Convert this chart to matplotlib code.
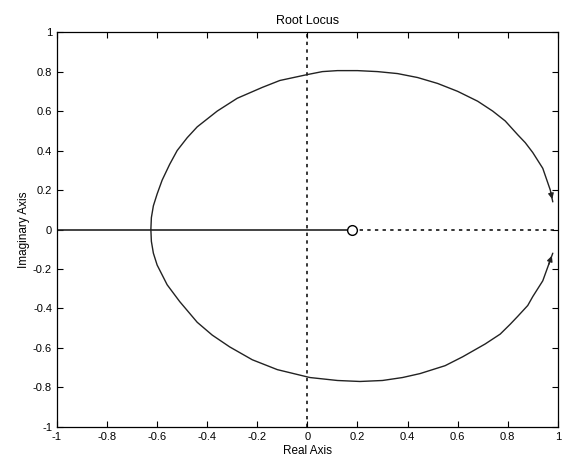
import numpy as np
import matplotlib.pyplot as plt
from matplotlib.ticker import FuncFormatter

plt.rcParams['font.family'] = ['Liberation Sans', 'DejaVu Sans']

# Upper branch of the locus, pole -> breakaway
upper_re = [0.98, 0.97, 0.94, 0.90, 0.87, 0.84, 0.79, 0.74, 0.68, 0.60, 0.52, 0.44, 0.36, 0.28, 0.20,
            0.12, 0.06, 0.0, -0.11, -0.18, -0.28, -0.36, -0.44, -0.48, -0.52, -0.55, -0.58, -0.60,
            -0.615, -0.623, -0.625]
upper_im = [0.14, 0.20, 0.31, 0.39, 0.44, 0.48, 0.55, 0.60, 0.65, 0.70, 0.74, 0.77, 0.79, 0.80, 0.805,
            0.805, 0.80, 0.785, 0.755, 0.72, 0.665, 0.60, 0.52, 0.465, 0.40, 0.33, 0.25, 0.18,
            0.12, 0.06, 0.0]

# Lower branch, breakaway -> pole
lower_re = [-0.625, -0.623, -0.615, -0.60, -0.58, -0.56, -0.51, -0.44, -0.38, -0.31, -0.22, -0.12, 0.01,
            0.12, 0.21, 0.30, 0.38, 0.45, 0.55, 0.62, 0.71, 0.77, 0.81, 0.84, 0.88, 0.90, 0.94,
            0.96, 0.98]
lower_im = [0.0, -0.06, -0.12, -0.18, -0.23, -0.28, -0.365, -0.47, -0.535, -0.595, -0.66, -0.71, -0.75,
            -0.765, -0.77, -0.765, -0.75, -0.73, -0.69, -0.645, -0.58, -0.53, -0.48, -0.44, -0.385,
            -0.34, -0.26, -0.19, -0.12]

# Real-axis part of the locus, from far left to the zero
real_re = [-1.0, 0.18]
real_im = [0.0, 0.0]

zero_re = [0.18]
zero_im = [0.0]

fig = plt.figure(figsize=(5.64, 4.59), dpi=100)
ax = fig.add_axes([0.101, 0.070, 0.888, 0.860])

dots = (0, (2.2, 2.8))
ax.plot([0, 0], [-1, 1], color='black', lw=1.1, linestyle=dots)
ax.plot([zero_re[0], 1], [0, 0], color='black', lw=1.1, linestyle=dots)

line_kw = dict(color='#222222', lw=1.0, solid_joinstyle='round', solid_capstyle='round')
ax.plot(upper_re, upper_im, '-', **line_kw)
ax.plot(lower_re, lower_im, '-', **line_kw)
ax.plot(real_re, real_im, '-', color='#222222', lw=1.2)
ax.plot(zero_re, zero_im, 'o', mfc='white', mec='black', ms=7, mew=1.0)

# arrowheads at the pole ends
ax.annotate('', xy=(upper_re[0], upper_im[0]), xytext=(upper_re[1], upper_im[1]),
            arrowprops=dict(arrowstyle='-|>', color='#222222', lw=1.0, mutation_scale=8))
ax.annotate('', xy=(lower_re[-1], lower_im[-1]), xytext=(lower_re[-2], lower_im[-2]),
            arrowprops=dict(arrowstyle='-|>', color='#222222', lw=1.0, mutation_scale=8))

ax.set_xlim(-1, 1)
ax.set_ylim(-1, 1)
ticks = np.round(np.arange(-1, 1.01, 0.2), 1)
ax.set_xticks(ticks)
ax.set_yticks(ticks)
fmt = FuncFormatter(lambda v, p: '%g' % round(v, 1) if abs(v) > 1e-9 else '0')
ax.xaxis.set_major_formatter(fmt)
ax.yaxis.set_major_formatter(fmt)
ax.tick_params(direction='in', top=True, right=True, labelsize=8, length=4, width=0.8)
for s in ax.spines.values():
    s.set_linewidth(0.9)

ax.set_title('Root Locus', fontsize=9)
ax.set_xlabel('Real Axis', fontsize=8.5, labelpad=2)
ax.set_ylabel('Imaginary Axis', fontsize=8.5, labelpad=2)

fig.savefig('out.png', dpi=100)
